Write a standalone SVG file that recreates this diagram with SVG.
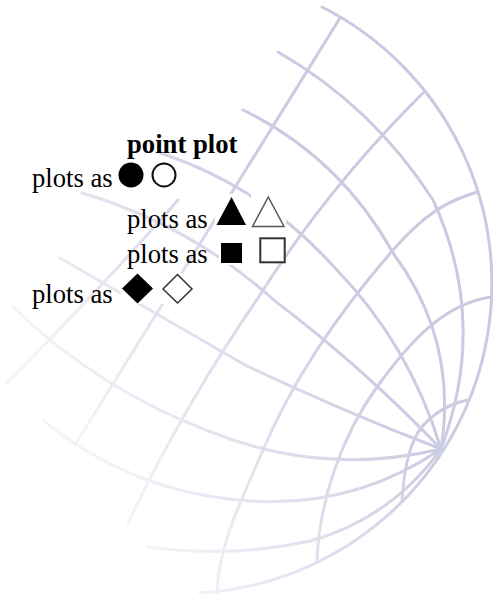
<svg xmlns="http://www.w3.org/2000/svg" width="493" height="597" viewBox="0 0 493 597">
<style>
  .grid path{fill:none;stroke:#c9c9e1;stroke-width:3;stroke-linecap:round}
  .lbl{font-family:"Liberation Serif","Times New Roman",serif;font-size:26.67px;fill:#000}
  .ttl{font-weight:bold}
  .bg{fill:#fff}
  .solid{fill:#000}
  .open{fill:#fff;stroke:#333;stroke-width:2}
</style>
<defs>
  <linearGradient id="fadeG" gradientUnits="userSpaceOnUse" x1="470" y1="230" x2="30" y2="500">
    <stop offset="0" stop-color="#fff" stop-opacity="1"/>
    <stop offset="0.3" stop-color="#fff" stop-opacity="0.95"/>
    <stop offset="0.55" stop-color="#fff" stop-opacity="0.6"/>
    <stop offset="0.8" stop-color="#fff" stop-opacity="0.28"/>
    <stop offset="1" stop-color="#fff" stop-opacity="0.08"/>
  </linearGradient>
  <mask id="fade" maskUnits="userSpaceOnUse" x="0" y="0" width="493" height="597">
    <rect x="0" y="0" width="493" height="597" fill="url(#fadeG)"/>
  </mask>
  <filter id="soft" x="-5%" y="-5%" width="110%" height="110%">
    <feGaussianBlur stdDeviation="0.6"/>
  </filter>
</defs>
<rect x="0" y="0" width="493" height="597" fill="#fff"/>
<g id="grid" class="grid" mask="url(#fade)" filter="url(#soft)">
  <path id="outer" d="M322,7 A310,310 0 0,1 200,593"/>
  <path d="M278,52 Q372.5,106 433,200 Q489,321.5 441,449"/>
  <path d="M243,110 Q340,157.5 393,253 Q458.2,340.6 441,449"/>
  <path d="M160,153 Q262.5,186.7 335,268 Q409.8,344.9 441,449"/>
  <path d="M82,193 Q190.7,225.2 275,301 Q363.6,368 441,449"/>
  <path d="M60,258 Q152.5,311.5 245,365 Q341.4,410.6 441,449"/>
  <path d="M13,307 Q99,389.9 211,432 Q323.6,476.9 441,449"/>
  <path d="M43,420 Q128.5,490 238.5,500 Q349.9,511.1 441,449"/>
  <path d="M147,547 Q229.1,558 309.6,541.3 Q391.5,518 441,449"/>
  <path d="M178,200 Q106,283 7,383"/>
  <path d="M340,18 Q260,146 75,445"/>
  <path d="M423,93 Q327.6,187.5 258,298 Q184,405.1 128,523"/>
  <path d="M477,192 C448.3,200.8 425.8,212.3 393,250 C340.5,310.4 294.3,376.3 263,450 C243.5,496 218.7,543 217,593"/>
  <path d="M491,297 C441.5,304 406.4,346.5 377,387 C341.7,435.5 319.1,501 317,561"/>
  <path d="M468,400 C446.3,403.8 422.6,419.7 414,440 C405.4,460.3 403.7,480.1 402,500"/>
</g>
<g id="legend">
  <text class="lbl ttl" x="127" y="153">point plot</text>
  <g id="row-circle">
    <text class="lbl" x="32" y="187">plots as</text>
    <rect class="bg" x="118" y="162" width="27" height="26"/>
    <circle class="solid" cx="131" cy="175" r="12.5"/>
    <rect class="bg" x="150" y="162" width="28" height="26"/>
    <circle cx="164" cy="175" r="11.5" fill="#fff" stroke="#111" stroke-width="2"/>
  </g>
  <g id="row-triangle">
    <text class="lbl" x="127" y="228">plots as</text>
    <rect class="bg" x="215" y="194" width="32" height="34"/>
    <polygon class="solid" points="231.5,197 216.5,225 246,225"/>
    <rect class="bg" x="251" y="194" width="35" height="35"/>
    <polygon points="268.3,197 252.5,226.5 284,226.5" fill="#fff" stroke="#555" stroke-width="1.5"/>
  </g>
  <g id="row-square">
    <text class="lbl" x="127" y="263">plots as</text>
    <rect class="bg" x="219" y="240" width="25" height="25"/>
    <rect class="solid" x="221" y="243" width="21" height="20"/>
    <rect class="open" x="260.3" y="238.3" width="24.4" height="24"/>
  </g>
  <g id="row-diamond">
    <text class="lbl" x="32" y="303">plots as</text>
    <rect class="bg" x="121" y="273" width="33" height="31"/>
    <polygon class="solid" points="137.5,273.5 153,288.5 137.5,303.5 122,288.5"/>
    <rect class="bg" x="162" y="273" width="31" height="31"/>
    <polygon points="177.5,274.5 192,289 177.5,303 163,289" fill="#fff" stroke="#333" stroke-width="1.5"/>
  </g>
</g>
</svg>
